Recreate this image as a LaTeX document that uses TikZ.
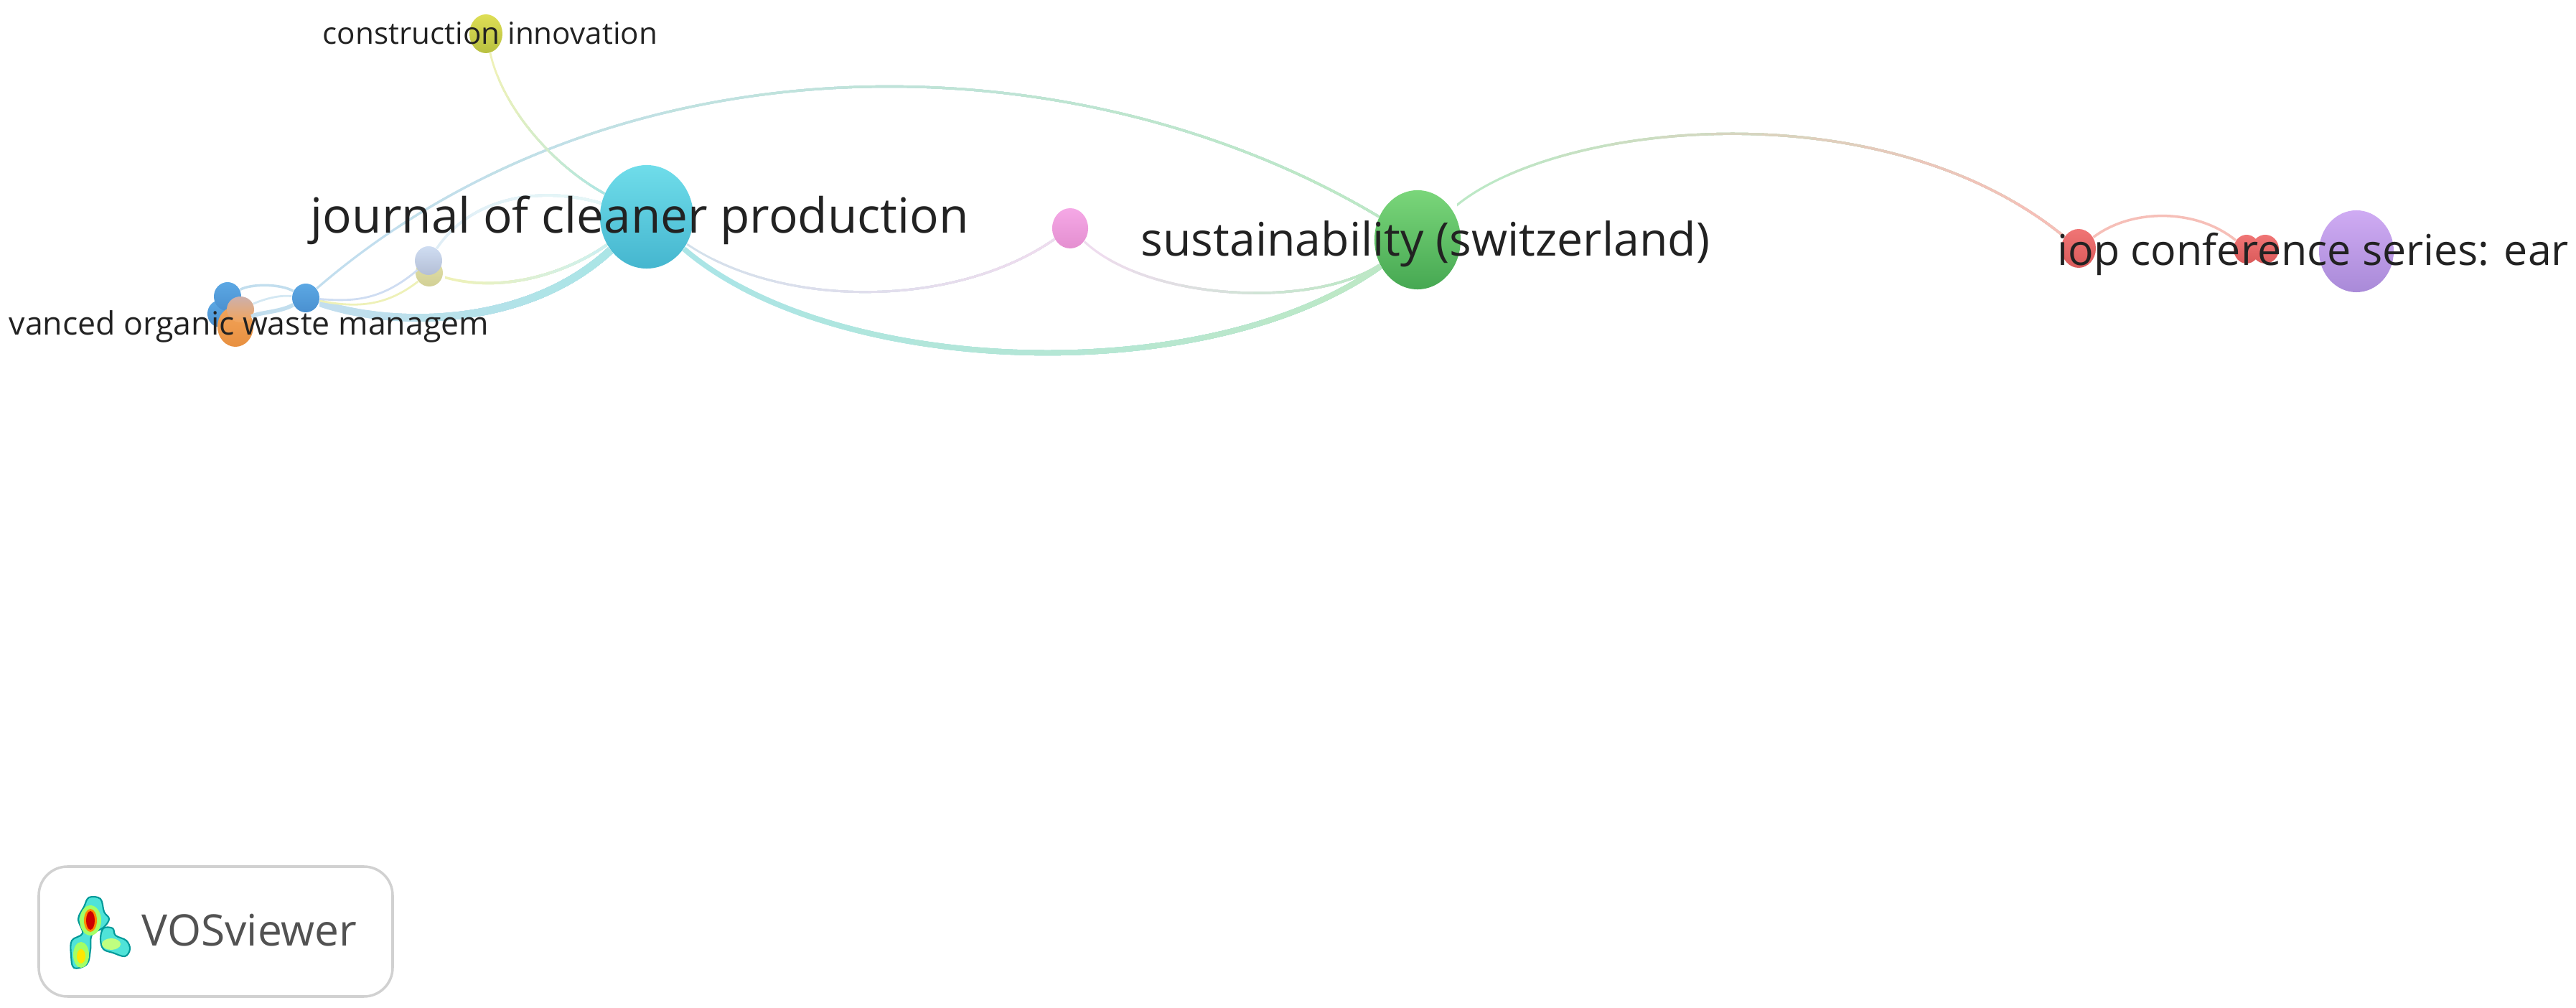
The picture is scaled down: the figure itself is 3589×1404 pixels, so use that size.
\documentclass[tikz,border=0pt]{standalone}
\usepackage{fontspec}
\setmainfont{Open Sans}
\usepackage{tikz}
\usetikzlibrary{shapes.geometric}

% colors of the journals
\definecolor{colClean}{HTML}{6FDDEA}
\definecolor{colCleanB}{HTML}{45B6CF}
\definecolor{colSust}{HTML}{7AD67A}
\definecolor{colSustB}{HTML}{46A852}
\definecolor{colIop}{HTML}{CFABF3}
\definecolor{colIopB}{HTML}{A98AD8}
\definecolor{colRed}{HTML}{F07575}
\definecolor{colRedB}{HTML}{DA5A5A}
\definecolor{colPink}{HTML}{F5A8E6}
\definecolor{colPinkB}{HTML}{E48FD0}
\definecolor{colYellow}{HTML}{DEDE55}
\definecolor{colYellowB}{HTML}{B8C040}
\definecolor{colOrange}{HTML}{F2A45A}
\definecolor{colOrangeB}{HTML}{E89040}
\definecolor{colBlue}{HTML}{5CA8E4}
\definecolor{colBlueB}{HTML}{4A90D0}
\definecolor{colTan}{HTML}{CDB0AC}
\definecolor{colOlive}{HTML}{E2E0A8}
\definecolor{colOliveB}{HTML}{D2D096}
\definecolor{colPale}{HTML}{CFDDF2}
\definecolor{colPaleB}{HTML}{B4BFD6}
\definecolor{colInk}{HTML}{222222}
\definecolor{colLogo}{HTML}{4FE3D8}
% colors of the links
\definecolor{lnkCyan}{HTML}{ABE5E6}
\definecolor{lnkGreen}{HTML}{BDE8C6}
\definecolor{lnkBlue}{HTML}{C2DEEE}
\definecolor{lnkYellow}{HTML}{EEF1B8}
\definecolor{lnkLilac}{HTML}{EEDCEE}
\definecolor{lnkRed}{HTML}{F6BFB8}

\tikzset{
  journal/.style={ellipse, inner sep=0pt, shade, shading angle=0},
  lbl/.style={anchor=base west, inner sep=0pt, text=colInk},
  lblbig/.style={lbl, font=\fontsize{19.2}{22}\selectfont},
  lblmid/.style={lbl, font=\fontsize{18.3}{22}\selectfont},
  lbliop/.style={lbl, font=\fontsize{16.8}{20}\selectfont},
  lblsmall/.style={lbl, font=\fontsize{12}{14}\selectfont},
  lblcut/.style={lbl, font=\fontsize{12.7}{14}\selectfont},
  blob/.style={line width=0.6pt, color=teal!80!cyan, fill=colLogo},
}

% link whose color runs from left to right: colors, width, x range, path
\newcommand{\gradlink}[6]{%
  \foreach \i in {0,...,11} {
    \pgfmathsetmacro{\xcut}{#4+(#5-#4)/12*\i}
    \pgfmathsetmacro{\mixpct}{100/11*\i}
    \begin{scope}
      \clip (\xcut,0) rectangle (3700,1500);
      \draw[line width=#3, color=#2!\mixpct!#1] #6;
    \end{scope}
  }
}

\begin{document}
\begin{tikzpicture}[x=0.01cm, y=-0.01cm]
  \useasboundingbox (0,0) rectangle (3589,1404);

  % journals, big ones first
  \node[journal, top color=colClean, bottom color=colCleanB, minimum width=1.30cm, minimum height=1.44cm] (clean) at (901,302) {};
  \node[journal, top color=colSust, bottom color=colSustB, minimum width=1.20cm, minimum height=1.38cm] (sust) at (1975,334) {};
  \node[journal, top color=colIop, bottom color=colIopB, minimum width=1.04cm, minimum height=1.14cm] (iop) at (3283,350) {};
  \node[journal, top color=colPink, bottom color=colPinkB, minimum width=0.50cm, minimum height=0.56cm] (pink) at (1491,318) {};
  \node[journal, top color=colYellow, bottom color=colYellowB, minimum width=0.46cm, minimum height=0.54cm] (constr) at (677,47) {};
  \node[journal, top color=colRed, bottom color=colRedB, minimum width=0.48cm, minimum height=0.54cm] (redA) at (2896,346) {};
  \node[journal, top color=colRed, bottom color=colRedB, minimum width=0.36cm, minimum height=0.40cm] (redB) at (3130,347) {};
  \node[journal, top color=colRed, bottom color=colRedB, minimum width=0.38cm, minimum height=0.40cm] (redC) at (3156,347) {};

  % small journals on the left
  \node[journal, top color=colBlue, bottom color=colBlueB, minimum width=0.36cm, minimum height=0.38cm] (blueC) at (307,437) {};
  \node[journal, top color=colBlue, bottom color=colBlueB, minimum width=0.38cm, minimum height=0.40cm] (blueA) at (317,413) {};
  \node[journal, top color=colBlue, bottom color=colBlueB, minimum width=0.38cm, minimum height=0.40cm] (blueB) at (426,415) {};
  \node[journal, top color=colOrange, bottom color=colOrangeB, minimum width=0.50cm, minimum height=0.56cm] (orange) at (328,455) {};
  \node[journal, top color=colTan, bottom color=colOrange, minimum width=0.38cm, minimum height=0.36cm] (tan) at (335,431) {};
  \node[journal, top color=colOlive, bottom color=colOliveB, minimum width=0.38cm, minimum height=0.38cm] (olive) at (598,380) {};
  \node[journal, top color=colPale, bottom color=colPaleB, minimum width=0.38cm, minimum height=0.40cm] (pale) at (597,363) {};

  % links across the map
  \gradlink{lnkBlue}{lnkGreen}{0.9pt}{430}{1920}{(blueB) .. controls (860,40) and (1500,50) .. (sust)}
  \gradlink{lnkYellow}{lnkCyan}{0.8pt}{680}{850}{(constr) .. controls (700,150) and (770,230) .. (clean)}
  \gradlink{lnkCyan}{lnkGreen}{2.1pt}{950}{1920}{(clean) .. controls (1160,525) and (1680,545) .. (sust)}
  \gradlink{lnkCyan!40!lnkLilac}{lnkLilac}{0.8pt}{950}{1470}{(clean) .. controls (1090,430) and (1330,430) .. (pink)}
  \gradlink{lnkLilac}{lnkGreen}{0.9pt}{1510}{1915}{(pink) .. controls (1600,420) and (1830,430) .. (sust)}
  \gradlink{lnkGreen}{lnkRed}{0.9pt}{2030}{2880}{(sust) .. controls (2160,170) and (2620,120) .. (redA)}
  \draw[line width=1pt, color=lnkRed] (redA) .. controls (2970,290) and (3060,290) .. (redB);

  % links inside the left group
  \gradlink{lnkBlue}{lnkCyan}{3pt}{445}{845}{(blueB) .. controls (540,455) and (730,460) .. (clean)}
  \draw[line width=1pt, color=lnkBlue] (blueA) .. controls (350,395) and (390,395) .. (blueB);
  \draw[line width=0.8pt, color=lnkBlue!70!white] (tan) .. controls (360,420) and (385,410) .. (blueB);
  \draw[line width=1.6pt, color=lnkBlue] (orange) .. controls (360,435) and (390,435) .. (blueB);
  \draw[line width=0.8pt, color=lnkYellow] (blueB) .. controls (500,430) and (540,425) .. (olive);
  \draw[line width=0.8pt, color=colPale] (blueB) .. controls (490,420) and (530,420) .. (pale);
  \gradlink{lnkYellow}{lnkCyan!60!white}{1pt}{620}{845}{(olive) .. controls (700,410) and (790,380) .. (clean)}
  \gradlink{lnkBlue!50!white}{lnkCyan!60!white}{1pt}{600}{840}{(pale) .. controls (660,270) and (760,260) .. (clean)}

  % journal names
  \node[lblsmall] (constrLbl) at (449,62) {construction innovation};
  \node[lblcut] (orangeLbl) at (12,467) {vanced organic waste managem};
  \node[lblbig] (cleanLbl) at (432,325) {journal of cleaner production};
  \node[lblmid] (sustLbl) at (1589,357) {sustainability (switzerland)};
  \node[lbliop] (iopLbl) at (2866,370) {iop conference series: ear};

  % logo box
  \draw[line width=1pt, color=black!18, rounded corners=0.4cm] (54,1207) rectangle (547,1388);
  \draw[blob] plot[smooth cycle, tension=0.6] coordinates {(124,1250) (140,1252) (145,1270) (152,1280) (144,1292) (128,1302) (126,1323) (121,1343) (103,1348) (99,1330) (100,1310) (115,1300) (109,1280) (117,1263)};
  \draw[blob] plot[smooth cycle, tension=0.6] coordinates {(144,1293) (157,1293) (161,1303) (176,1310) (181,1322) (174,1332) (157,1327) (144,1322) (140,1308)};
  \fill[color=green!60!yellow!60] (126,1282) ellipse (15 and 21);
  \fill[color=orange!90!yellow] (126,1282) ellipse (9 and 16);
  \fill[color=red!80!black] (126,1282) ellipse (6 and 13);
  \fill[color=green!60!yellow!60] (113,1330) ellipse (11 and 18);
  \fill[color=yellow!90!orange] (113,1332) ellipse (6 and 10);
  \fill[color=green!50!yellow!50] (155,1315) ellipse (13 and 8);
  \node[lbl, text=black!68, font=\fontsize{17.2}{20}\selectfont] (logoLbl) at (197,1318) {VOSviewer};
\end{tikzpicture}
\end{document}
